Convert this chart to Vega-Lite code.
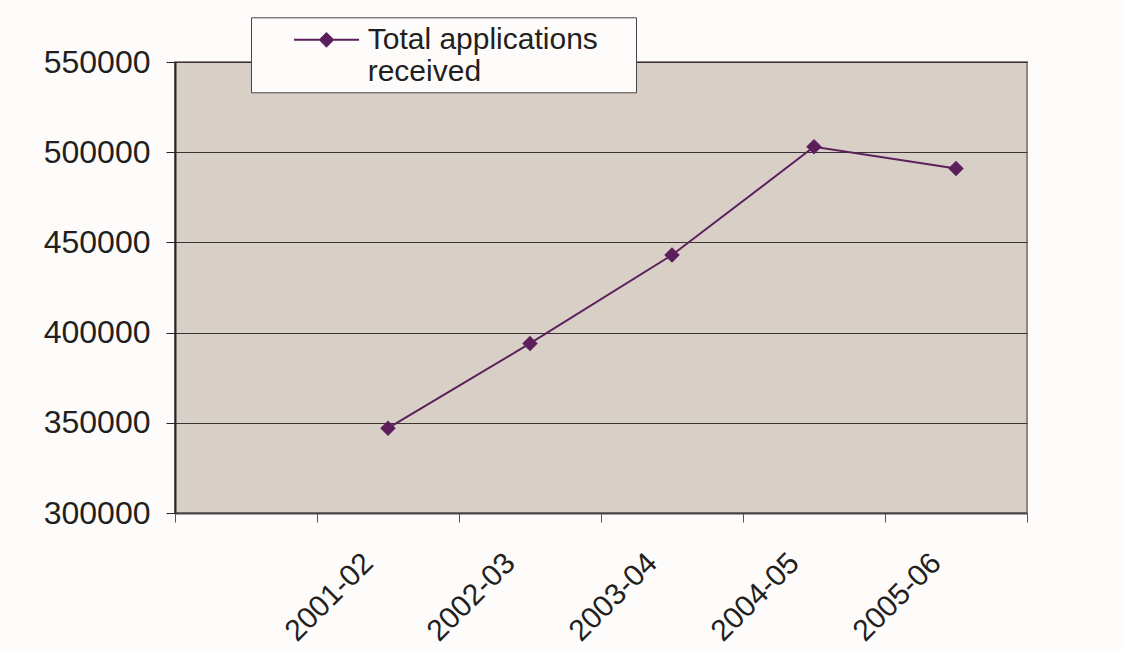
{
  "$schema": "https://vega.github.io/schema/vega-lite/v6.json",
  "width": 852,
  "height": 451,
  "autosize": {"type": "none"},
  "padding": {"left": 175, "top": 62, "right": 96, "bottom": 137},
  "background": "#fdfcfa",
  "config": {
    "view": {"fill": "#d8d0c7", "stroke": "#8e8680", "strokeWidth": 2},
    "font": "Liberation Sans"
  },
  "data": {
    "values": [
      {"period": "2001-02", "applications": 347000},
      {"period": "2002-03", "applications": 394000},
      {"period": "2003-04", "applications": 443000},
      {"period": "2004-05", "applications": 503000},
      {"period": "2005-06", "applications": 491000}
    ]
  },
  "encoding": {
    "x": {
      "field": "period",
      "type": "nominal",
      "sort": null,
      "scale": {
        "type": "band",
        "domain": ["", "2001-02", "2002-03", "2003-04", "2004-05", "2005-06"],
        "paddingInner": 0,
        "paddingOuter": 0
      },
      "axis": {
        "title": null,
        "tickBand": "extent",
        "domainColor": "#4a4347",
        "domainWidth": 2,
        "tickColor": "#5a5458",
        "tickSize": 9,
        "tickWidth": 1,
        "labelAngle": -45,
        "labelAlign": "right",
        "labelBaseline": "middle",
        "labelFontSize": 30,
        "labelColor": "#231f20",
        "labelPadding": 36,
        "labelOffset": -20,
        "labelOverlap": false,
        "grid": false
      }
    },
    "y": {
      "field": "applications",
      "type": "quantitative",
      "scale": {"domain": [300000, 550000], "nice": false, "zero": false},
      "axis": {
        "title": null,
        "values": [300000, 350000, 400000, 450000, 500000, 550000],
        "format": "d",
        "domainColor": "#2b2428",
        "domainWidth": 2,
        "tickColor": "#2b2428",
        "tickSize": 9,
        "labelFontSize": 32,
        "labelColor": "#231f20",
        "labelPadding": 16,
        "gridColor": "#3a3436",
        "gridWidth": 1
      }
    }
  },
  "layer": [
    {
      "mark": {"type": "line", "color": "#5c1f5c", "strokeWidth": 2}
    },
    {
      "mark": {"type": "point", "shape": "diamond", "filled": true, "size": 240, "opacity": 1},
      "encoding": {
        "color": {
          "datum": "Total applications received",
          "scale": {"range": ["#5c1f5c"]},
          "legend": {
            "orient": "none",
            "legendX": 76,
            "legendY": -44.7,
            "title": null,
            "padding": 5,
            "fillColor": "#fdfcfa",
            "strokeColor": "#4a4446",
            "symbolType": "M-1.97,0H1.97M0,-0.39L0.39,0L0,0.39L-0.39,0ZM18.2,0",
            "symbolSize": 1089,
            "symbolStrokeWidth": 2,
            "symbolStrokeColor": "#5c1f5c",
            "symbolFillColor": "#5c1f5c",
            "symbolOffset": 53,
            "labelOffset": 23.7,
            "labelFontSize": 30,
            "labelColor": "#231f20",
            "labelLimit": 400,
            "labelBaseline": "middle",
            "labelExpr": "['Total applications', 'received']",
            "encode": {
              "symbols": {
                "update": {
                  "fill": {"value": "#5c1f5c"},
                  "stroke": {"value": "#5c1f5c"},
                  "strokeWidth": {"value": 2},
                  "opacity": {"value": 1}
                }
              },
              "labels": {
                "update": {
                  "dy": {"value": 16.5},
                  "lineHeight": {"value": 33}
                }
              }
            }
          }
        }
      }
    }
  ]
}
